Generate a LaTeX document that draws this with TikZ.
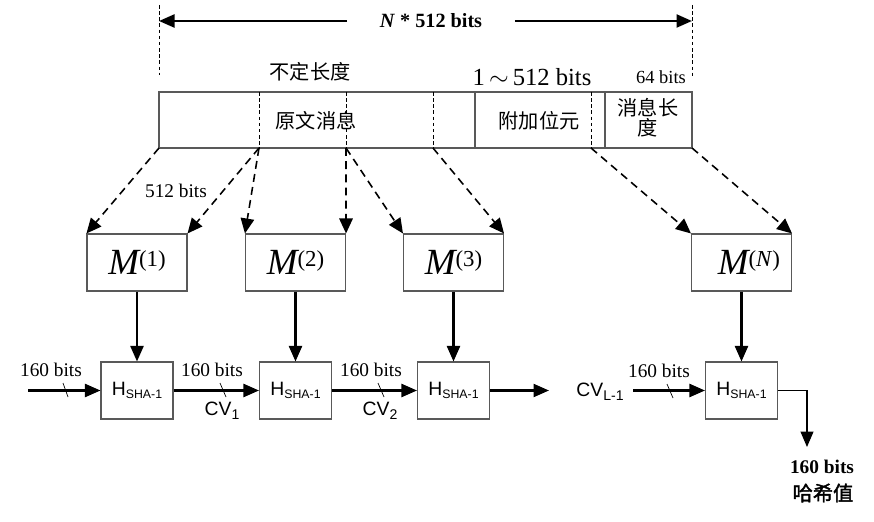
\documentclass[tikz,border=0pt]{standalone}
\usepackage{fontspec}
\setmainfont{Liberation Serif}
\setsansfont{Liberation Sans}
\newfontfamily\cjk{Noto Sans CJK SC}[AutoFakeBold=2]
\usetikzlibrary{arrows.meta}

\begin{document}
\begin{tikzpicture}[x=0.2mm,y=-0.2mm,
    frame/.style={draw=black!65,line width=0.6pt},
    mbox/.style={frame,minimum width=20mm,minimum height=11.4mm,inner sep=0pt,font=\fontsize{21}{24}\selectfont},
    hbox/.style={frame,minimum width=14.4mm,minimum height=11.4mm,inner sep=0pt,font=\sffamily\fontsize{11}{13}\selectfont},
    bits/.style={font=\fontsize{11}{13}\selectfont,inner sep=0pt},
    cn/.style={font=\cjk\fontsize{11.5}{11.4}\selectfont,inner sep=0pt},
    cv/.style={font=\sffamily\fontsize{11}{13}\selectfont,inner sep=0pt},
    feed/.style={line width=0.9pt,dash pattern=on 4.5pt off 3pt,-{Triangle[length=3mm,width=2.7mm]}},
    flow/.style={line width=1.3pt,-{Triangle[length=3.1mm,width=2.6mm]}},
    guide/.style={line width=0.4pt,dash pattern=on 2pt off 1.5pt},
    slash/.style={line width=0.4pt}]
\useasboundingbox (0,0) rectangle (874,522);

% overall length N * 512 bits
\coordinate (gl) at (159,21);
\coordinate (gr) at (692,21);
\draw[guide] (159,5) -- (159,75);
\draw[guide] (692,5) -- (692,77);
\node[font=\bfseries\fontsize{11.5}{13}\selectfont,inner xsep=6.5mm,inner ysep=0pt] (total) at (431,21) {\textit{N} * 512 bits};
\draw[flow] (total) -- (gl);
\draw[flow] (total) -- (gr);

% message block
\node[cn] (varlen) at (310,72) {不定长度};
\node[font=\fontsize{14}{16}\selectfont,inner sep=0pt] (padlen) at (532,77) {1\,$\sim$\,512 bits};
\node[font=\fontsize{10.5}{12}\selectfont,inner sep=0pt] (lenbits) at (661,77) {64 bits};
\draw[frame] (159,92) rectangle (692,148);
\draw[frame] (475,92) -- (475,148);
\draw[frame] (605,92) -- (605,148);
\foreach \x in {259,346,433,591}
    \draw[guide] (\x,92) -- (\x,149);
\node[cn] (orig) at (316,121) {原文消息};
\node[cn] (pad) at (539,121) {附加位元};
\node[cn,align=center] (len) at (648,118) {消息长\\度};

\coordinate (c0) at (159,148);
\coordinate (c1) at (259,148);
\coordinate (c2) at (346,148);
\coordinate (c3) at (433,148);
\coordinate (c4) at (591,148);
\coordinate (c5) at (692,148);

% blocks M
\node[mbox] (m1) at (137,262.5) {\textit{M}\kern-1pt\raisebox{5pt}{\fontsize{13}{13}\selectfont(1)}};
\node[mbox] (m2) at (295.5,262.5) {\textit{M}\kern-1pt\raisebox{5pt}{\fontsize{13}{13}\selectfont(2)}};
\node[mbox] (m3) at (453.5,262.5) {\textit{M}\kern-1pt\raisebox{5pt}{\fontsize{13}{13}\selectfont(3)}};
\node[mbox] (mn) at (741.5,262.5) {\hspace*{3mm}\textit{M}\kern-1pt\raisebox{5pt}{\fontsize{13}{13}\selectfont(\textit{N})}};
\node[bits] (seg) at (176,191) {512 bits};

\foreach \a/\b in {c0/m1.north west,c1/m1.north east,c1/m2.north west,c2/m2.north east,
                   c2/m3.north west,c3/m3.north east,c4/mn.north west,c5/mn.north east}
    \draw[feed] (\a) -- (\b);

% compression functions
\node[hbox] (h1) at (137,390.5) {H\raisebox{-2pt}{\fontsize{7}{7}\selectfont SHA-1}};
\node[hbox] (h2) at (295.5,390.5) {H\raisebox{-2pt}{\fontsize{7}{7}\selectfont SHA-1}};
\node[hbox] (h3) at (453.5,390.5) {H\raisebox{-2pt}{\fontsize{7}{7}\selectfont SHA-1}};
\node[hbox] (hn) at (741.5,390.5) {H\raisebox{-2pt}{\fontsize{7}{7}\selectfont SHA-1}};

\foreach \i in {1,2,3,n}
    \draw[flow] (m\i) -- (h\i);

\coordinate (in) at (28,390.5);
\coordinate (h3out) at (549,390.5);
\coordinate (cvin) at (633,390.5);
\coordinate (out) at (807,447);
\draw[flow] (in) -- (h1.west);
\draw[flow] (h1) -- (h2);
\draw[flow] (h2) -- (h3);
\draw[flow] (h3.east) -- (h3out);
\draw[flow] (cvin) -- (hn.west);
\draw[line width=0.6pt,-{Triangle[length=3.1mm,width=2.6mm]}] (hn.east) -| (out);

% bit widths
\node[bits] (b0) at (51,370) {160 bits};
\node[bits] (b1) at (212,370) {160 bits};
\node[bits] (b2) at (371,370) {160 bits};
\node[bits] (b3) at (659,371) {160 bits};
\draw[slash] (63,383) -- (68,397);
\draw[slash] (220,383) -- (226,397);
\draw[slash] (378,383) -- (384,397);
\draw[slash] (667,384) -- (673,398);

\node[cv] (cv1) at (222,411) {CV\raisebox{-2.5pt}{\fontsize{8}{8}\selectfont 1}};
\node[cv] (cv2) at (380,411) {CV\raisebox{-2.5pt}{\fontsize{8}{8}\selectfont 2}};
\node[cv] (cvl) at (600,392) {CV\raisebox{-2.5pt}{\fontsize{8}{8}\selectfont L-1}};

% result
\node[font=\bfseries\fontsize{11}{13}\selectfont,inner sep=0pt] (hashbits) at (822,467) {160 bits};
\node[cn,font=\cjk\bfseries\fontsize{11.5}{13}\selectfont] (hash) at (823,493) {哈希值};
\end{tikzpicture}
\end{document}
